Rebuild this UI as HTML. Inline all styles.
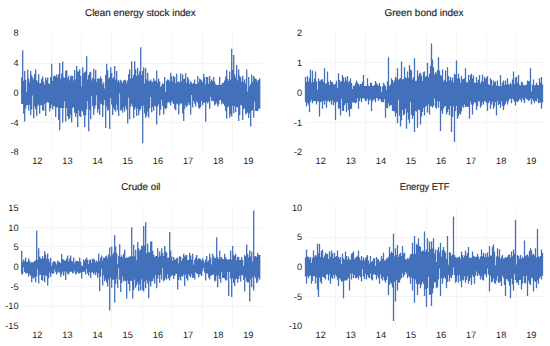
<!DOCTYPE html>
<html><head><meta charset="utf-8"><style>
html,body{margin:0;padding:0;background:#fff;}
svg{display:block;}
</style></head><body>
<svg width="550" height="346" viewBox="0 0 550 346">
<rect width="550" height="346" fill="#fff"/>
<g stroke="#F4F4F4" stroke-width="1" shape-rendering="crispEdges">
<line x1="51.6" y1="32.5" x2="51.6" y2="152" />
<line x1="81.75" y1="32.5" x2="81.75" y2="152" />
<line x1="111.9" y1="32.5" x2="111.9" y2="152" />
<line x1="142.04999999999998" y1="32.5" x2="142.04999999999998" y2="152" />
<line x1="172.2" y1="32.5" x2="172.2" y2="152" />
<line x1="202.35" y1="32.5" x2="202.35" y2="152" />
<line x1="232.49999999999997" y1="32.5" x2="232.49999999999997" y2="152" />
<line x1="21.5" y1="63" x2="261.7" y2="63" />
<line x1="21.5" y1="122.3" x2="261.7" y2="122.3" />
<line x1="335.8" y1="32.5" x2="335.8" y2="152" />
<line x1="365.88" y1="32.5" x2="365.88" y2="152" />
<line x1="395.96000000000004" y1="32.5" x2="395.96000000000004" y2="152" />
<line x1="426.04" y1="32.5" x2="426.04" y2="152" />
<line x1="456.12" y1="32.5" x2="456.12" y2="152" />
<line x1="486.2" y1="32.5" x2="486.2" y2="152" />
<line x1="516.28" y1="32.5" x2="516.28" y2="152" />
<line x1="305.5" y1="62.8" x2="543.6" y2="62.8" />
<line x1="305.5" y1="122.6" x2="543.6" y2="122.6" />
<line x1="51.6" y1="207" x2="51.6" y2="326" />
<line x1="81.75" y1="207" x2="81.75" y2="326" />
<line x1="111.9" y1="207" x2="111.9" y2="326" />
<line x1="142.04999999999998" y1="207" x2="142.04999999999998" y2="326" />
<line x1="172.2" y1="207" x2="172.2" y2="326" />
<line x1="202.35" y1="207" x2="202.35" y2="326" />
<line x1="232.49999999999997" y1="207" x2="232.49999999999997" y2="326" />
<line x1="21.5" y1="227.3" x2="261.7" y2="227.3" />
<line x1="21.5" y1="246.9" x2="261.7" y2="246.9" />
<line x1="21.5" y1="286.3" x2="261.7" y2="286.3" />
<line x1="21.5" y1="306.1" x2="261.7" y2="306.1" />
<line x1="335.8" y1="207" x2="335.8" y2="326" />
<line x1="365.88" y1="207" x2="365.88" y2="326" />
<line x1="395.96000000000004" y1="207" x2="395.96000000000004" y2="326" />
<line x1="426.04" y1="207" x2="426.04" y2="326" />
<line x1="456.12" y1="207" x2="456.12" y2="326" />
<line x1="486.2" y1="207" x2="486.2" y2="326" />
<line x1="516.28" y1="207" x2="516.28" y2="326" />
<line x1="305.5" y1="237" x2="543.6" y2="237" />
<line x1="305.5" y1="296.3" x2="543.6" y2="296.3" />
</g>
<g fill="none" stroke="#4370BA" stroke-width="1.3" stroke-linejoin="miter">
<path d="M21.70 77.3V103.7M22.70 50.3V103.9M23.70 80.7V113.8M24.70 71.0V121.5M25.70 79.7V108.5M26.70 91.8V105.2M27.70 69.5V105.0M28.70 78.5V110.5M29.70 82.2V104.7M30.70 71.0V114.9M31.70 75.2V109.6M32.70 77.5V95.4M33.70 79.6V118.2M34.70 74.0V106.2M35.70 69.5V109.2M36.70 80.0V116.0M37.70 82.0V106.2M38.70 74.3V104.5M39.70 83.2V113.8M40.70 83.0V105.3M41.70 79.0V105.2M42.70 76.5V110.5M43.70 81.8V110.7M44.70 84.9V103.7M45.70 77.6V116.0M46.70 80.2V102.4M47.70 77.5V102.3M48.70 83.5V102.7M49.70 84.0V111.6M50.70 76.9V108.0M51.70 63.8V104.6M52.70 80.8V109.5M53.70 76.3V106.1M54.70 75.4V106.6M55.70 76.5V117.1M56.70 74.5V107.8M57.70 77.4V106.9M58.70 74.2V119.7M59.70 62.9V130.2M60.70 79.0V108.0M61.70 73.5V107.9M62.70 61.6V122.5M63.70 76.9V108.1M64.70 78.0V100.9M65.70 70.7V121.5M66.70 70.3V108.0M67.70 78.0V116.3M68.70 75.8V119.3M69.70 80.6V118.3M70.70 76.6V114.4M71.70 75.4V122.5M72.70 76.0V108.1M73.70 80.5V107.1M74.70 69.9V112.7M75.70 79.6V117.1M76.70 66.0V113.5M77.70 71.4V126.9M78.70 71.3V110.4M79.70 69.3V116.0M80.70 76.0V117.1M81.70 86.5V110.8M82.70 67.3V111.6M83.70 73.5V115.4M84.70 72.2V126.9M85.70 71.3V115.2M86.70 56.2V109.3M87.70 79.5V101.1M88.70 75.1V131.3M89.70 72.6V109.7M90.70 71.7V119.3M91.70 80.5V95.9M92.70 77.9V106.2M93.70 68.8V114.9M94.70 79.1V108.6M95.70 69.9V105.6M96.70 81.8V95.3M97.70 78.5V112.7M98.70 78.2V109.0M99.70 78.8V114.9M100.70 76.5V103.5M101.70 79.1V104.3M102.70 84.5V117.1M103.70 82.5V105.1M104.70 88.5V99.9M105.70 74.7V128.0M106.70 63.8V106.6M107.70 70.3V110.5M108.70 78.7V109.8M109.70 77.0V129.1M110.70 67.3V98.1M111.70 72.9V104.6M112.70 78.6V114.9M113.70 77.2V107.8M114.70 66.0V109.9M115.70 79.4V111.6M116.70 71.0V104.6M117.70 81.3V109.9M118.70 80.0V116.0M119.70 82.5V93.4M120.70 79.7V110.5M121.70 81.5V110.0M122.70 83.5V112.7M123.70 80.5V107.5M124.70 79.7V111.6M125.70 80.2V106.2M126.70 83.4V109.4M127.70 80.5V123.6M128.70 74.3V97.4M129.70 69.2V119.3M130.70 78.8V106.7M131.70 61.2V103.7M132.70 77.9V106.6M133.70 75.0V118.2M134.70 61.2V109.6M135.70 69.3V107.2M136.70 76.0V116.0M137.70 67.7V108.5M138.70 75.0V114.9M139.70 71.3V110.8M140.70 47.2V109.1M141.70 74.9V105.7M142.70 70.9V143.2M143.70 67.2V105.8M144.70 83.6V113.5M145.70 68.3V117.7M146.70 79.4V116.1M147.70 72.7V111.4M148.70 80.8V117.7M149.70 81.3V108.2M150.70 79.4V96.9M151.70 81.4V112.2M152.70 81.9V107.1M153.70 78.3V110.7M154.70 80.8V105.8M155.70 80.7V106.2M156.70 70.5V124.4M157.70 82.5V106.6M158.70 78.7V104.2M159.70 81.6V115.5M160.70 87.0V109.8M161.70 85.2V99.7M162.70 83.0V105.9M163.70 84.2V114.4M164.70 77.1V108.3M165.70 92.1V109.3M166.70 80.8V107.7M167.70 79.4V102.7M168.70 79.7V101.8M169.70 81.5V103.0M170.70 72.7V105.5M171.70 76.5V100.9M172.70 81.4V102.5M173.70 76.0V104.1M174.70 77.1V108.8M175.70 82.9V110.3M176.70 73.8V104.3M177.70 82.3V103.6M178.70 81.2V114.4M179.70 82.4V104.8M180.70 73.2V103.4M181.70 81.2V103.5M182.70 74.5V113.4M183.70 79.2V121.0M184.70 78.7V108.7M185.70 73.2V104.9M186.70 82.9V106.9M187.70 77.1V105.5M188.70 79.3V102.8M189.70 84.1V104.8M190.70 81.6V114.4M191.70 82.4V95.0M192.70 83.9V107.4M193.70 83.1V100.8M194.70 79.4V103.5M195.70 84.0V106.6M196.70 83.9V101.2M197.70 76.0V102.8M198.70 82.5V108.1M199.70 78.4V108.8M200.70 79.4V107.1M201.70 80.6V101.1M202.70 82.2V104.9M203.70 73.8V102.8M204.70 77.3V102.7M205.70 84.3V121.7M206.70 77.1V102.0M207.70 77.1V103.4M208.70 83.9V101.8M209.70 76.0V108.8M210.70 81.6V97.0M211.70 79.5V100.8M212.70 81.3V101.1M213.70 77.1V101.2M214.70 81.8V105.5M215.70 84.6V103.9M216.70 84.9V102.5M217.70 84.9V106.6M218.70 84.8V104.6M219.70 77.1V100.2M220.70 85.0V100.0M221.70 84.4V104.4M222.70 82.7V102.4M223.70 82.7V104.1M224.70 80.5V105.9M225.70 76.6V111.1M226.70 70.0V118.8M227.70 78.9V107.6M228.70 80.7V106.2M229.70 71.6V117.7M230.70 79.8V114.3M231.70 48.8V116.6M232.70 70.1V105.8M233.70 55.0V113.2M234.70 74.4V106.0M235.70 77.6V112.2M236.70 65.0V106.9M237.70 80.6V107.6M238.70 69.4V121.0M239.70 75.8V115.1M240.70 77.6V105.1M241.70 81.7V105.6M242.70 75.8V119.9M243.70 81.7V109.3M244.70 79.3V108.2M245.70 83.4V114.4M246.70 69.4V113.3M247.70 91.5V112.4M248.70 77.1V118.0M249.70 86.6V113.1M250.70 83.7V126.6M251.70 74.5V110.7M252.70 81.8V110.1M253.70 76.0V117.7M254.70 77.8V101.4M255.70 79.0V111.0M256.70 79.4V111.1M257.70 81.8V111.1M258.70 80.1V108.7M259.70 78.3V108.8"/>
<path d="M305.50 77.1V102.0M306.50 81.9V106.6M307.50 76.0V103.1M308.50 81.6V104.8M309.50 77.7V112.2M310.50 69.4V102.1M311.50 82.4V99.7M312.50 70.5V103.3M313.50 81.9V101.0M314.50 78.6V100.9M315.50 71.6V101.3M316.50 81.4V104.4M317.50 89.8V101.4M318.50 78.3V101.3M319.50 81.0V116.6M320.50 80.4V102.2M321.50 79.4V101.5M322.50 79.3V108.8M323.50 81.9V101.1M324.50 68.3V104.6M325.50 84.1V100.5M326.50 83.1V107.7M327.50 71.6V101.4M328.50 81.7V100.6M329.50 84.9V102.2M330.50 80.3V100.8M331.50 82.1V104.4M332.50 82.2V100.5M333.50 84.4V105.3M334.50 84.4V102.3M335.50 83.8V119.9M336.50 80.7V102.2M337.50 88.0V101.6M338.50 73.2V108.8M339.50 79.9V108.3M340.50 82.1V115.5M341.50 81.2V98.8M342.50 74.9V110.7M343.50 77.4V111.1M344.50 81.8V105.2M345.50 77.0V103.3M346.50 80.4V112.2M347.50 76.0V103.1M348.50 82.5V110.0M349.50 80.9V116.6M350.50 78.3V109.1M351.50 83.1V108.8M352.50 89.0V102.5M353.50 85.6V102.2M354.50 85.7V102.8M355.50 83.2V103.3M356.50 80.5V102.3M357.50 82.6V98.2M358.50 83.8V108.8M359.50 85.4V101.0M360.50 84.1V98.3M361.50 83.9V102.2M362.50 81.8V98.4M363.50 74.9V98.3M364.50 86.0V98.8M365.50 86.1V101.1M366.50 86.0V100.6M367.50 78.3V98.4M368.50 85.8V104.4M369.50 85.9V100.2M370.50 82.7V99.5M371.50 82.7V111.1M372.50 85.9V101.6M373.50 85.7V99.5M374.50 84.9V99.8M375.50 81.1V102.2M376.50 83.2V98.1M377.50 84.6V98.5M378.50 85.7V101.1M379.50 82.7V98.9M380.50 86.1V99.4M381.50 92.2V102.2M382.50 86.7V101.8M383.50 82.7V102.3M384.50 84.3V98.9M385.50 86.3V117.7M386.50 90.0V107.7M387.50 81.2V108.4M388.50 57.2V103.3M389.50 85.7V106.6M390.50 84.4V105.3M391.50 78.3V105.1M392.50 80.0V111.1M393.50 82.5V110.9M394.50 80.5V111.4M395.50 76.8V116.6M396.50 78.4V113.1M397.50 68.3V123.3M398.50 79.9V99.7M399.50 78.8V115.7M400.50 78.1V126.6M401.50 61.6V120.5M402.50 79.4V110.1M403.50 79.0V115.5M404.50 67.2V114.1M405.50 77.2V108.8M406.50 78.3V128.8M407.50 71.6V112.6M408.50 77.7V119.4M409.50 65.0V123.3M410.50 69.6V102.1M411.50 70.5V114.9M412.50 79.6V118.8M413.50 77.3V115.9M414.50 58.3V132.1M415.50 81.0V110.9M416.50 80.6V111.6M417.50 70.5V127.7M418.50 76.4V109.5M419.50 73.5V109.9M420.50 72.7V124.4M421.50 75.4V116.5M422.50 81.1V111.9M423.50 72.2V108.0M424.50 71.6V115.5M425.50 76.9V107.0M426.50 76.1V105.5M427.50 62.7V112.6M428.50 77.2V104.5M429.50 73.7V114.4M430.50 66.0V106.3M431.50 43.4V106.1M432.50 59.4V107.7M433.50 67.3V105.7M434.50 74.8V98.6M435.50 72.3V107.5M436.50 73.2V108.8M437.50 70.0V101.3M438.50 57.2V107.4M439.50 70.8V101.5M440.50 74.9V131.0M441.50 76.3V111.0M442.50 69.4V113.8M443.50 81.5V108.8M444.50 79.7V106.5M445.50 70.5V105.9M446.50 82.0V114.4M447.50 67.2V112.2M448.50 75.9V109.2M449.50 80.4V115.5M450.50 77.1V106.0M451.50 80.5V132.1M452.50 77.4V116.8M453.50 82.6V106.2M454.50 73.8V142.1M455.50 74.7V111.0M456.50 60.5V106.0M457.50 78.8V118.8M458.50 73.8V116.3M459.50 78.3V113.5M460.50 82.7V114.4M461.50 76.0V111.5M462.50 79.6V106.2M463.50 78.9V107.7M464.50 78.2V104.4M465.50 68.3V107.1M466.50 82.1V106.6M467.50 82.8V107.0M468.50 74.9V106.8M469.50 80.3V118.8M470.50 75.0V101.8M471.50 73.8V104.4M472.50 78.5V114.4M473.50 75.5V104.6M474.50 82.7V102.1M475.50 82.8V102.8M476.50 77.1V110.0M477.50 82.5V106.2M478.50 79.7V101.1M479.50 74.9V101.7M480.50 83.4V107.7M481.50 81.2V105.7M482.50 74.5V102.2M483.50 81.7V104.4M484.50 76.7V101.1M485.50 78.9V101.4M486.50 77.6V103.1M487.50 76.0V111.1M488.50 84.2V102.9M489.50 85.1V101.3M490.50 78.3V108.8M491.50 79.8V104.6M492.50 85.7V101.7M493.50 80.5V108.8M494.50 82.5V106.6M495.50 81.3V102.3M496.50 85.8V115.5M497.50 80.5V101.0M498.50 85.9V104.9M499.50 86.3V103.9M500.50 74.9V107.7M501.50 86.3V101.3M502.50 82.4V105.7M503.50 80.5V110.0M504.50 84.7V105.6M505.50 80.6V103.4M506.50 84.7V101.0M507.50 78.3V104.4M508.50 84.1V101.5M509.50 85.0V99.0M510.50 82.7V98.8M511.50 84.6V103.3M512.50 79.6V98.6M513.50 71.6V99.7M514.50 84.1V102.0M515.50 77.5V105.5M516.50 77.1V101.1M517.50 82.6V102.3M518.50 74.9V101.1M519.50 84.8V98.9M520.50 85.4V99.8M521.50 81.6V102.2M522.50 82.6V98.1M523.50 85.3V100.3M524.50 84.9V103.3M525.50 85.6V97.8M526.50 84.4V99.2M527.50 80.5V99.6M528.50 80.9V101.1M529.50 81.2V100.1M530.50 68.3V98.2M531.50 91.6V104.4M532.50 84.7V98.9M533.50 79.4V100.9M534.50 85.4V103.3M535.50 85.0V100.6M536.50 82.7V101.6M537.50 85.1V98.5M538.50 85.3V103.3M539.50 78.3V102.8M540.50 82.6V102.4M541.50 77.1V108.8M542.50 84.6V102.6"/>
<path d="M21.70 250.8V274.6M22.70 261.8V273.8M23.70 259.5V267.2M24.70 261.0V271.9M25.70 257.4V273.5M26.70 261.9V273.3M27.70 261.7V272.9M28.70 258.5V276.8M29.70 260.8V274.3M30.70 262.7V275.6M31.70 262.2V282.3M32.70 262.2V277.6M33.70 262.2V278.7M34.70 260.9V277.1M35.70 260.2V282.3M36.70 230.7V276.5M37.70 260.0V269.2M38.70 248.2V283.4M39.70 256.5V275.1M40.70 258.7V274.8M41.70 258.5V280.1M42.70 256.2V280.7M43.70 258.6V275.3M44.70 251.3V282.3M45.70 254.6V275.2M46.70 258.8V276.2M47.70 253.4V285.5M48.70 259.1V278.2M49.70 261.9V272.6M50.70 257.4V276.8M51.70 266.0V272.9M52.70 262.7V273.8M53.70 261.3V273.5M54.70 261.2V269.5M55.70 262.6V272.2M56.70 264.6V274.6M57.70 260.6V272.7M58.70 261.8V271.6M59.70 261.9V272.6M60.70 263.3V276.8M61.70 254.1V274.5M62.70 258.9V271.4M63.70 259.7V275.7M64.70 260.6V271.6M65.70 260.8V280.1M66.70 258.6V271.5M67.70 255.6V273.8M68.70 261.3V274.6M69.70 258.5V271.9M70.70 255.6V271.4M71.70 260.7V271.7M72.70 261.7V273.5M73.70 257.4V272.7M74.70 263.2V270.8M75.70 260.8V274.6M76.70 261.3V273.5M77.70 261.0V271.7M78.70 261.7V273.5M79.70 257.4V273.2M80.70 261.7V272.5M81.70 265.5V278.6M82.70 266.1V272.1M83.70 259.5V271.7M84.70 261.1V271.6M85.70 259.0V274.6M86.70 257.4V269.1M87.70 259.9V273.4M88.70 264.2V275.7M89.70 259.7V272.0M90.70 259.5V277.9M91.70 263.0V272.5M92.70 259.1V272.3M93.70 258.5V274.6M94.70 260.0V272.8M95.70 262.4V275.3M96.70 260.6V272.3M97.70 262.1V277.7M98.70 253.4V273.4M99.70 261.1V291.0M100.70 257.7V276.5M101.70 255.6V268.8M102.70 260.4V285.5M103.70 257.4V275.5M104.70 258.0V281.2M105.70 256.6V279.6M106.70 255.6V282.6M107.70 258.5V286.6M108.70 254.4V279.2M109.70 247.5V310.6M110.70 256.4V277.6M111.70 246.5V287.7M112.70 254.6V279.7M113.70 252.4V279.7M114.70 235.1V302.6M115.70 246.5V283.9M116.70 253.2V278.8M117.70 263.9V287.7M118.70 255.7V268.1M119.70 244.3V279.7M120.70 256.9V292.1M121.70 255.2V282.9M122.70 257.5V276.6M123.70 253.7V281.2M124.70 249.7V280.4M125.70 257.9V281.2M126.70 257.4V298.6M127.70 257.8V280.6M128.70 257.2V284.1M129.70 256.3V291.0M130.70 256.4V280.6M131.70 227.3V281.0M132.70 256.3V298.6M133.70 244.7V290.1M134.70 256.6V279.5M135.70 249.7V287.7M136.70 260.2V285.1M137.70 242.1V282.3M138.70 248.2V291.0M139.70 250.8V284.3M140.70 249.4V290.5M141.70 245.5V279.3M142.70 246.0V290.0M143.70 226.1V291.6M144.70 245.6V281.4M145.70 222.3V288.3M146.70 253.2V280.3M147.70 243.8V283.5M148.70 252.1V298.3M149.70 252.6V281.3M150.70 241.6V286.6M151.70 241.6V281.6M152.70 250.7V281.1M153.70 254.5V278.2M154.70 257.1V283.6M155.70 256.2V275.2M156.70 255.8V288.3M157.70 248.3V278.8M158.70 257.0V275.3M159.70 251.6V282.7M160.70 255.8V274.8M161.70 248.3V279.6M162.70 252.9V268.1M163.70 255.9V281.6M164.70 246.0V280.0M165.70 251.4V277.8M166.70 252.7V279.4M167.70 258.0V274.2M168.70 257.5V278.5M169.70 232.1V280.5M170.70 250.5V276.8M171.70 256.6V275.4M172.70 260.7V275.2M173.70 257.1V279.1M174.70 259.7V275.9M175.70 259.3V274.0M176.70 258.2V273.9M177.70 257.5V289.4M178.70 263.3V279.9M179.70 256.0V276.7M180.70 257.0V280.5M181.70 261.1V276.0M182.70 258.4V276.7M183.70 253.8V274.5M184.70 256.6V286.1M185.70 255.2V274.5M186.70 254.9V278.7M187.70 260.0V280.5M188.70 259.9V274.2M189.70 252.7V276.3M190.70 255.4V277.2M191.70 259.8V273.9M192.70 253.8V278.0M193.70 264.7V277.3M194.70 259.7V279.4M195.70 257.6V272.3M196.70 254.9V273.6M197.70 259.8V274.0M198.70 258.6V277.2M199.70 258.2V274.4M200.70 259.2V274.6M201.70 260.6V276.1M202.70 258.2V271.1M203.70 260.4V267.8M204.70 263.0V272.8M205.70 259.5V280.5M206.70 256.0V273.3M207.70 261.7V273.7M208.70 260.4V277.5M209.70 253.8V279.4M210.70 257.7V275.7M211.70 264.4V275.6M212.70 253.8V274.6M213.70 256.5V274.8M214.70 258.2V281.6M215.70 257.9V280.4M216.70 237.2V275.8M217.70 257.0V287.2M218.70 259.2V275.4M219.70 250.5V279.1M220.70 257.7V282.7M221.70 257.1V271.8M222.70 258.9V277.9M223.70 259.1V278.1M224.70 253.8V278.6M225.70 257.2V280.5M226.70 258.9V280.3M227.70 260.1V272.1M228.70 259.4V296.0M229.70 259.0V272.1M230.70 250.5V278.4M231.70 259.9V297.1M232.70 246.0V278.4M233.70 255.1V283.1M234.70 255.8V286.1M235.70 253.8V279.6M236.70 260.2V278.3M237.70 256.8V282.7M238.70 257.1V279.1M239.70 260.0V275.8M240.70 259.7V281.6M241.70 257.1V275.0M242.70 260.1V275.4M243.70 265.9V280.0M244.70 254.9V291.6M245.70 256.1V277.6M246.70 244.5V281.6M247.70 253.9V282.4M248.70 257.2V282.3M249.70 250.5V301.6M250.70 256.3V279.3M251.70 251.6V287.2M252.70 261.6V277.2M253.70 210.5V290.5M254.70 256.4V275.9M255.70 256.0V278.2M256.70 257.0V283.2M257.70 252.7V281.6M258.70 254.9V277.5M259.70 254.9V279.4"/>
<path d="M305.50 257.6V276.6M306.50 249.4V283.8M307.50 256.2V275.7M308.50 257.1V278.3M309.50 258.6V276.1M310.50 257.1V275.6M311.50 263.0V283.8M312.50 258.0V281.1M313.50 250.5V275.9M314.50 256.7V276.2M315.50 255.0V283.5M316.50 256.2V277.3M317.50 243.8V289.4M318.50 253.2V297.1M319.50 243.8V277.7M320.50 256.9V281.8M321.50 250.9V283.8M322.50 249.4V276.6M323.50 257.9V277.0M324.50 255.6V278.0M325.50 252.7V279.4M326.50 253.9V274.7M327.50 253.8V273.9M328.50 258.9V280.5M329.50 251.6V274.4M330.50 256.8V283.8M331.50 250.5V277.3M332.50 253.2V279.1M333.50 258.0V275.1M334.50 252.7V278.3M335.50 256.9V274.5M336.50 256.0V276.4M337.50 250.5V279.7M338.50 256.8V286.1M339.50 258.7V278.1M340.50 257.1V279.6M341.50 264.3V281.6M342.50 253.8V281.6M343.50 258.3V298.3M344.50 259.6V280.6M345.50 251.6V280.6M346.50 256.1V280.5M347.50 259.7V279.2M348.50 256.5V277.5M349.50 259.2V290.5M350.50 259.7V273.6M351.50 253.8V279.4M352.50 253.1V273.6M353.50 251.6V277.9M354.50 259.5V274.9M355.50 257.7V278.3M356.50 257.1V278.0M357.50 255.7V277.1M358.50 250.5V279.4M359.50 257.5V275.4M360.50 260.3V277.0M361.50 256.0V281.6M362.50 260.4V269.1M363.50 257.3V276.5M364.50 260.4V278.9M365.50 258.2V273.7M366.50 256.8V279.4M367.50 254.9V275.0M368.50 260.5V277.6M369.50 263.4V278.3M370.50 256.0V273.6M371.50 261.9V279.2M372.50 261.1V280.5M373.50 258.2V274.6M374.50 258.3V273.9M375.50 265.9V275.1M376.50 257.1V279.6M377.50 259.3V275.3M378.50 259.3V278.1M379.50 261.7V283.8M380.50 260.7V274.4M381.50 256.0V278.4M382.50 258.8V280.5M383.50 252.7V277.0M384.50 260.4V280.4M385.50 260.2V282.7M386.50 258.2V280.1M387.50 258.5V276.4M388.50 256.7V294.9M389.50 247.1V284.7M390.50 253.6V282.4M391.50 251.6V283.8M392.50 253.0V287.5M393.50 233.4V321.1M394.50 256.2V281.9M395.50 248.3V301.6M396.50 254.8V280.1M397.50 244.9V290.5M398.50 256.9V282.2M399.50 254.1V282.8M400.50 252.7V279.4M401.50 256.0V278.0M402.50 246.0V273.3M403.50 253.5V277.2M404.50 252.7V275.0M405.50 259.3V272.0M406.50 259.3V273.4M407.50 258.2V278.3M408.50 259.2V275.7M409.50 257.3V277.4M410.50 254.4V283.8M411.50 253.7V277.4M412.50 242.7V290.5M413.50 254.2V278.8M414.50 236.1V302.7M415.50 253.6V279.4M416.50 243.8V283.7M417.50 245.1V294.9M418.50 238.3V284.4M419.50 245.9V283.5M420.50 247.1V288.3M421.50 251.9V284.7M422.50 250.5V281.8M423.50 250.8V283.8M424.50 231.6V296.0M425.50 251.7V289.2M426.50 249.5V307.1M427.50 238.3V288.3M428.50 251.9V276.7M429.50 241.6V294.9M430.50 248.9V294.8M431.50 241.6V306.0M432.50 248.4V293.4M433.50 238.3V288.3M434.50 253.4V282.3M435.50 249.4V282.6M436.50 262.1V288.3M437.50 250.0V287.2M438.50 247.1V279.2M439.50 252.3V268.6M440.50 242.7V296.0M441.50 256.4V278.3M442.50 250.3V283.8M443.50 247.1V278.4M444.50 250.6V276.7M445.50 252.7V279.1M446.50 259.0V288.3M447.50 236.1V282.1M448.50 264.7V275.1M449.50 252.2V281.6M450.50 252.7V277.0M451.50 255.8V278.3M452.50 254.6V275.0M453.50 216.5V267.4M454.50 254.9V275.1M455.50 257.1V282.7M456.50 257.4V281.4M457.50 257.9V275.7M458.50 257.1V282.7M459.50 256.6V275.0M460.50 258.8V280.9M461.50 251.6V287.2M462.50 255.1V279.5M463.50 257.5V280.5M464.50 255.5V276.3M465.50 250.5V282.7M466.50 255.7V279.9M467.50 253.0V276.2M468.50 247.1V283.8M469.50 257.9V281.0M470.50 257.6V278.1M471.50 258.1V284.9M472.50 251.6V275.3M473.50 255.8V277.0M474.50 256.6V283.8M475.50 257.1V275.7M476.50 256.8V271.4M477.50 253.8V276.1M478.50 256.4V273.6M479.50 259.3V275.5M480.50 256.5V279.4M481.50 249.4V276.5M482.50 256.1V279.7M483.50 252.7V280.5M484.50 256.9V274.6M485.50 253.4V274.4M486.50 257.1V277.2M487.50 252.4V268.4M488.50 256.7V274.4M489.50 246.0V291.6M490.50 255.7V275.9M491.50 255.4V282.2M492.50 247.1V281.6M493.50 244.5V278.3M494.50 251.8V282.9M495.50 265.3V283.8M496.50 256.6V280.8M497.50 248.3V276.2M498.50 256.6V282.7M499.50 249.4V282.6M500.50 258.9V281.3M501.50 256.8V286.1M502.50 254.9V275.8M503.50 258.4V277.9M504.50 258.2V284.9M505.50 257.1V296.0M506.50 257.8V279.1M507.50 256.7V279.5M508.50 254.9V281.6M509.50 254.6V285.8M510.50 257.8V298.3M511.50 251.6V278.4M512.50 256.3V284.3M513.50 249.4V290.5M514.50 253.8V274.1M515.50 220.1V280.1M516.50 264.6V282.7M517.50 254.9V282.3M518.50 255.9V284.9M519.50 258.8V280.1M520.50 254.9V279.7M521.50 258.9V289.4M522.50 256.7V283.4M523.50 258.0V276.2M524.50 240.5V282.7M525.50 256.3V283.4M526.50 254.9V275.7M527.50 254.6V296.0M528.50 256.6V280.8M529.50 250.9V283.4M530.50 248.3V284.9M531.50 250.2V277.5M532.50 255.1V278.6M533.50 253.8V291.6M534.50 255.5V280.8M535.50 248.3V282.0M536.50 257.7V288.3M537.50 229.0V280.4M538.50 256.6V283.8M539.50 257.1V278.3M540.50 255.9V276.8M541.50 249.4V279.6M542.50 253.1V275.7"/>
</g>
<g fill="#222222" stroke="#222222" stroke-width="0.15" font-family="Liberation Sans, sans-serif" text-rendering="geometricPrecision">
<text x="140.4" y="16" font-size="10" text-anchor="middle" textLength="110.8" lengthAdjust="spacingAndGlyphs">Clean energy stock index</text>
<text x="18.6" y="36.3" font-size="9.2" text-anchor="end" stroke-width="0">8</text>
<text x="18.6" y="66.3" font-size="9.2" text-anchor="end" stroke-width="0">4</text>
<text x="18.6" y="96.0" font-size="9.2" text-anchor="end" stroke-width="0">0</text>
<text x="18.6" y="125.6" font-size="9.2" text-anchor="end" stroke-width="0">-4</text>
<text x="18.6" y="155.3" font-size="9.2" text-anchor="end" stroke-width="0">-8</text>
<text x="37.3" y="164" font-size="9.2" text-anchor="middle" stroke-width="0">12</text>
<text x="67.4" y="164" font-size="9.2" text-anchor="middle" stroke-width="0">13</text>
<text x="97.6" y="164" font-size="9.2" text-anchor="middle" stroke-width="0">14</text>
<text x="127.7" y="164" font-size="9.2" text-anchor="middle" stroke-width="0">15</text>
<text x="157.9" y="164" font-size="9.2" text-anchor="middle" stroke-width="0">16</text>
<text x="188.1" y="164" font-size="9.2" text-anchor="middle" stroke-width="0">17</text>
<text x="218.2" y="164" font-size="9.2" text-anchor="middle" stroke-width="0">18</text>
<text x="248.3" y="164" font-size="9.2" text-anchor="middle" stroke-width="0">19</text>
<text x="424" y="16" font-size="10" text-anchor="middle" textLength="79.2" lengthAdjust="spacingAndGlyphs">Green bond index</text>
<text x="302.2" y="36.3" font-size="9.2" text-anchor="end" stroke-width="0">2</text>
<text x="302.2" y="66.1" font-size="9.2" text-anchor="end" stroke-width="0">1</text>
<text x="302.2" y="95.9" font-size="9.2" text-anchor="end" stroke-width="0">0</text>
<text x="302.2" y="125.8" font-size="9.2" text-anchor="end" stroke-width="0">-1</text>
<text x="302.2" y="155.3" font-size="9.2" text-anchor="end" stroke-width="0">-2</text>
<text x="320.7" y="164" font-size="9.2" text-anchor="middle" stroke-width="0">12</text>
<text x="350.8" y="164" font-size="9.2" text-anchor="middle" stroke-width="0">13</text>
<text x="380.9" y="164" font-size="9.2" text-anchor="middle" stroke-width="0">14</text>
<text x="410.9" y="164" font-size="9.2" text-anchor="middle" stroke-width="0">15</text>
<text x="441.0" y="164" font-size="9.2" text-anchor="middle" stroke-width="0">16</text>
<text x="471.1" y="164" font-size="9.2" text-anchor="middle" stroke-width="0">17</text>
<text x="501.2" y="164" font-size="9.2" text-anchor="middle" stroke-width="0">18</text>
<text x="531.3" y="164" font-size="9.2" text-anchor="middle" stroke-width="0">19</text>
<text x="140.9" y="189.7" font-size="10" text-anchor="middle" textLength="39.2" lengthAdjust="spacingAndGlyphs">Crude oil</text>
<text x="18.6" y="210.8" font-size="9.2" text-anchor="end" stroke-width="0">15</text>
<text x="18.6" y="230.5" font-size="9.2" text-anchor="end" stroke-width="0">10</text>
<text x="18.6" y="250.2" font-size="9.2" text-anchor="end" stroke-width="0">5</text>
<text x="18.6" y="269.9" font-size="9.2" text-anchor="end" stroke-width="0">0</text>
<text x="18.6" y="289.6" font-size="9.2" text-anchor="end" stroke-width="0">-5</text>
<text x="18.6" y="309.3" font-size="9.2" text-anchor="end" stroke-width="0">-10</text>
<text x="18.6" y="329.2" font-size="9.2" text-anchor="end" stroke-width="0">-15</text>
<text x="37.3" y="338" font-size="9.2" text-anchor="middle" stroke-width="0">12</text>
<text x="67.4" y="338" font-size="9.2" text-anchor="middle" stroke-width="0">13</text>
<text x="97.6" y="338" font-size="9.2" text-anchor="middle" stroke-width="0">14</text>
<text x="127.7" y="338" font-size="9.2" text-anchor="middle" stroke-width="0">15</text>
<text x="157.9" y="338" font-size="9.2" text-anchor="middle" stroke-width="0">16</text>
<text x="188.1" y="338" font-size="9.2" text-anchor="middle" stroke-width="0">17</text>
<text x="218.2" y="338" font-size="9.2" text-anchor="middle" stroke-width="0">18</text>
<text x="248.3" y="338" font-size="9.2" text-anchor="middle" stroke-width="0">19</text>
<text x="424.6" y="189.8" font-size="10" text-anchor="middle" textLength="49.8" lengthAdjust="spacingAndGlyphs">Energy ETF</text>
<text x="302.2" y="210.6" font-size="9.2" text-anchor="end" stroke-width="0">10</text>
<text x="302.2" y="240.3" font-size="9.2" text-anchor="end" stroke-width="0">5</text>
<text x="302.2" y="269.9" font-size="9.2" text-anchor="end" stroke-width="0">0</text>
<text x="302.2" y="299.6" font-size="9.2" text-anchor="end" stroke-width="0">-5</text>
<text x="302.2" y="329.3" font-size="9.2" text-anchor="end" stroke-width="0">-10</text>
<text x="320.7" y="338" font-size="9.2" text-anchor="middle" stroke-width="0">12</text>
<text x="350.8" y="338" font-size="9.2" text-anchor="middle" stroke-width="0">13</text>
<text x="380.9" y="338" font-size="9.2" text-anchor="middle" stroke-width="0">14</text>
<text x="410.9" y="338" font-size="9.2" text-anchor="middle" stroke-width="0">15</text>
<text x="441.0" y="338" font-size="9.2" text-anchor="middle" stroke-width="0">16</text>
<text x="471.1" y="338" font-size="9.2" text-anchor="middle" stroke-width="0">17</text>
<text x="501.2" y="338" font-size="9.2" text-anchor="middle" stroke-width="0">18</text>
<text x="531.3" y="338" font-size="9.2" text-anchor="middle" stroke-width="0">19</text>
</g>
</svg>
</body></html>
